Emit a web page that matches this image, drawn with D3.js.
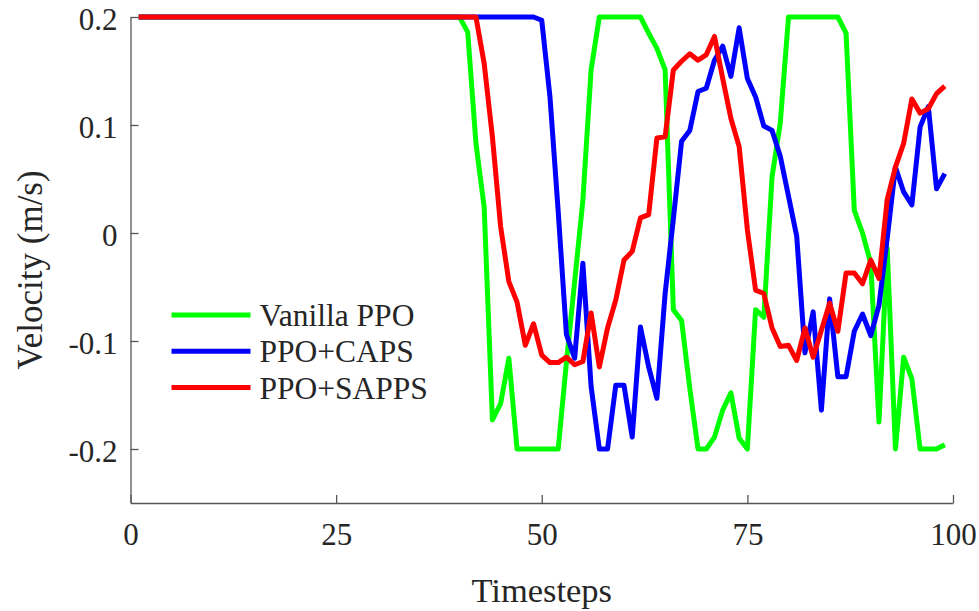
<!DOCTYPE html>
<html>
<head>
<meta charset="utf-8">
<script src="https://cdn.jsdelivr.net/npm/d3@7"></script>
<style>
    body { margin: 0; background: #fff; }
    #chart { width: 979px; height: 611px; }
    text { font-family: "Liberation Serif", "Times New Roman", serif; fill: #262626; }
</style>
</head>
<body>
<div id="chart"></div>
<script>
// timesteps 1..99
const steps = d3.range(1, 100);

const xTicks = [0, 25, 50, 75, 100];
const yTicks = [-0.2, -0.1, 0, 0.1, 0.2];

const seriesNames = ["Vanilla PPO", "PPO+CAPS", "PPO+SAPPS"];
const seriesColors = ["#00ff00", "#0000ff", "#ff0000"];

const vanillaPPO = [
    0.2, 0.2, 0.2, 0.2, 0.2, 0.2, 0.2, 0.2, 0.2, 0.2,
    0.2, 0.2, 0.2, 0.2, 0.2, 0.2, 0.2, 0.2, 0.2, 0.2,
    0.2, 0.2, 0.2, 0.2, 0.2, 0.2, 0.2, 0.2, 0.2, 0.2,
    0.2, 0.2, 0.2, 0.2, 0.2, 0.2, 0.2, 0.2, 0.2, 0.2,
    0.186, 0.083, 0.024, -0.173, -0.158, -0.116, -0.2, -0.2, -0.2, -0.2,
    -0.2, -0.2, -0.12, -0.045, 0.03, 0.151, 0.2, 0.2, 0.2, 0.2,
    0.2, 0.2, 0.185, 0.171, 0.151, -0.071, -0.081, -0.144, -0.2, -0.2,
    -0.189, -0.164, -0.148, -0.19, -0.2, -0.071, -0.078, 0.052, 0.102, 0.2,
    0.2, 0.2, 0.2, 0.2, 0.2, 0.2, 0.185, 0.021, 0.0, -0.028,
    -0.175, -0.014, -0.2, -0.115, -0.135, -0.2, -0.2, -0.2, -0.196
];

const ppoCAPS = [
    0.2, 0.2, 0.2, 0.2, 0.2, 0.2, 0.2, 0.2, 0.2, 0.2,
    0.2, 0.2, 0.2, 0.2, 0.2, 0.2, 0.2, 0.2, 0.2, 0.2,
    0.2, 0.2, 0.2, 0.2, 0.2, 0.2, 0.2, 0.2, 0.2, 0.2,
    0.2, 0.2, 0.2, 0.2, 0.2, 0.2, 0.2, 0.2, 0.2, 0.2,
    0.2, 0.2, 0.2, 0.2, 0.2, 0.2, 0.2, 0.2, 0.2, 0.197,
    0.126, 0.02, -0.094, -0.116, -0.028, -0.142, -0.2, -0.2, -0.141, -0.141,
    -0.189, -0.087, -0.124, -0.153, -0.056, 0.013, 0.085, 0.095, 0.131, 0.134,
    0.16, 0.173, 0.145, 0.19, 0.143, 0.126, 0.099, 0.095, 0.071, 0.034,
    -0.003, -0.111, -0.073, -0.164, -0.061, -0.133, -0.133, -0.091, -0.075, -0.095,
    -0.067, -0.005, 0.061, 0.038, 0.026, 0.098, 0.117, 0.041, 0.055
];

const ppoSAPPS = [
    0.2, 0.2, 0.2, 0.2, 0.2, 0.2, 0.2, 0.2, 0.2, 0.2,
    0.2, 0.2, 0.2, 0.2, 0.2, 0.2, 0.2, 0.2, 0.2, 0.2,
    0.2, 0.2, 0.2, 0.2, 0.2, 0.2, 0.2, 0.2, 0.2, 0.2,
    0.2, 0.2, 0.2, 0.2, 0.2, 0.2, 0.2, 0.2, 0.2, 0.2,
    0.2, 0.2, 0.157, 0.089, 0.006, -0.045, -0.064, -0.104, -0.084, -0.113,
    -0.12, -0.12, -0.115, -0.122, -0.119, -0.074, -0.124, -0.088, -0.062, -0.025,
    -0.017, 0.014, 0.017, 0.088, 0.089, 0.151, 0.159, 0.166, 0.16, 0.165,
    0.182, 0.143, 0.106, 0.08, 0.003, -0.053, -0.056, -0.088, -0.105, -0.104,
    -0.118, -0.088, -0.115, -0.09, -0.065, -0.091, -0.037, -0.037, -0.047, -0.025,
    -0.042, 0.031, 0.061, 0.083, 0.124, 0.111, 0.115, 0.129, 0.136
];

const allSeries = [vanillaPPO, ppoCAPS, ppoSAPPS];

let margin = {top: 17, right: 26, bottom: 108, left: 130.5};
let width = 979 - margin.left - margin.right,
    height = 611 - margin.top - margin.bottom;

let svg = d3.select("#chart").append("svg")
    .attr("width", 979)
    .attr("height", 611)
    .append("g")
    .attr("transform", "translate(" + margin.left + "," + margin.top + ")");

// scales
let x = d3.scaleLinear().domain([0, 100]).range([0, width]);
let y = d3.scaleLinear().domain([-0.25, 0.2]).range([height, 0]);

// axes, ticks pointing inward
svg.append("g")
    .attr("class", "axis axis--x")
    .attr("transform", "translate(0," + height + ")")
    .call(d3.axisBottom(x).tickValues(xTicks).tickSizeInner(-8).tickSizeOuter(0).tickPadding(20)
        .tickFormat(d3.format("d")));

svg.append("g")
    .attr("class", "axis axis--y")
    .call(d3.axisLeft(y).tickValues(yTicks).tickSizeInner(-8).tickSizeOuter(0).tickPadding(13)
        .tickFormat(d => d === 0 ? "0" : d.toFixed(1)));

svg.selectAll(".axis path, .axis line")
    .attr("stroke", "#555")
    .attr("stroke-width", 1.3);
svg.selectAll(".axis text")
    .attr("font-family", '"Liberation Serif", "Times New Roman", serif')
    .attr("font-size", "31px")
    .attr("fill", "#262626");
svg.selectAll(".axis--y text").attr("dy", "0.4em");

// axis titles
svg.append("text")
    .text("Timesteps")
    .attr("x", width / 2)
    .attr("y", 601.5 - margin.top)
    .attr("text-anchor", "middle")
    .attr("font-size", "34.5px");

svg.append("text")
    .text("Velocity (m/s)")
    .attr("transform", `translate(${41.5 - margin.left}, ${270 - margin.top}) rotate(-90)`)
    .attr("text-anchor", "middle")
    .attr("font-size", "35px");

// lines
let drawLine = d3.line()
    .curve(d3.curveLinear)
    .x((d, i) => x(steps[i]))
    .y(d => y(d));

svg.append("g").attr("class", "lineGroup")
    .selectAll(".vel-line")
    .data(allSeries)
    .enter()
    .append("path")
    .attr("class", "vel-line")
    .attr("fill", "none")
    .attr("stroke", (d, i) => seriesColors[i])
    .attr("stroke-width", 5)
    .attr("stroke-linejoin", "round")
    .attr("d", drawLine);

// legend
let legend = svg.append("g")
    .attr("class", "legend")
    .attr("transform", "translate(" + (171.5 - margin.left) + "," + (315 - margin.top) + ")");

legend.selectAll(".legend-line")
    .data(seriesNames)
    .enter()
    .append("line")
    .attr("class", "legend-line")
    .attr("x1", 0)
    .attr("x2", 79)
    .attr("y1", (d, i) => i * 36.3)
    .attr("y2", (d, i) => i * 36.3)
    .attr("stroke", (d, i) => seriesColors[i])
    .attr("stroke-width", 5);

legend.selectAll(".legend-text")
    .data(seriesNames)
    .enter()
    .append("text")
    .attr("class", "legend-text")
    .text(d => d)
    .attr("x", 88)
    .attr("y", (d, i) => i * 36.3 + 11)
    .attr("font-size", "31.5px");
</script>
</body>
</html>
